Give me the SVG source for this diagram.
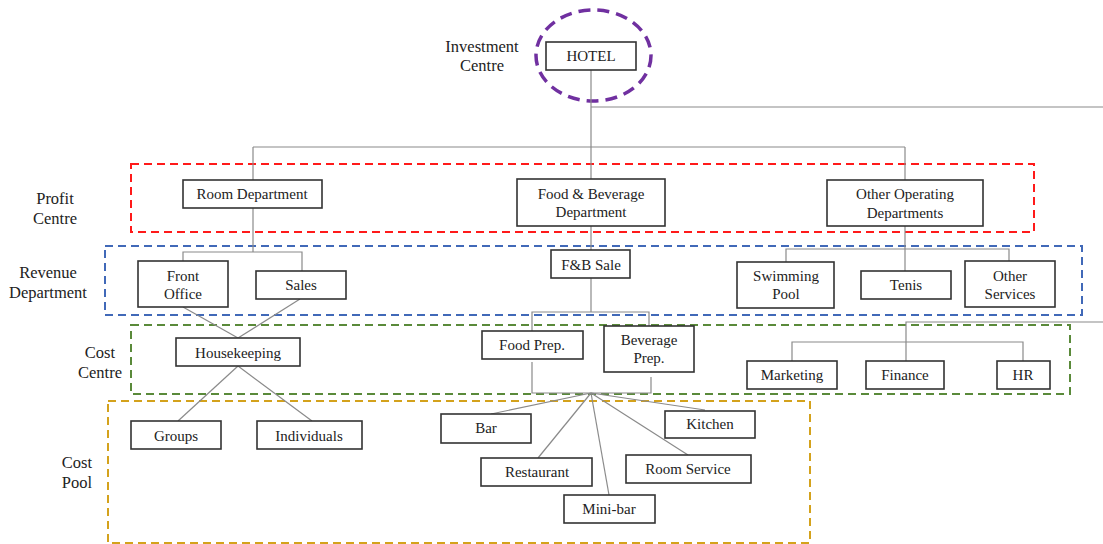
<svg xmlns="http://www.w3.org/2000/svg" width="1103" height="544" viewBox="0 0 1103 544">
  <style>
    .box { fill: #ffffff; stroke: #333333; stroke-width: 1.6; }
    .t { font-family: "Liberation Serif", "Times New Roman", serif; font-size: 15px; fill: #222222; text-anchor: middle; }
    .lbl { font-family: "Liberation Serif", "Times New Roman", serif; font-size: 16.5px; fill: #222222; text-anchor: middle; }
    .conn { fill: none; stroke: #8a8a8a; stroke-width: 1.2; }
    .zone { fill: none; stroke-width: 2; stroke-dasharray: 8 5; }
  </style>
  <rect width="1103" height="544" fill="#ffffff"/>

  <!-- level bands -->
  <g id="bands">
    <rect class="zone" x="131" y="164" width="903" height="68" stroke="#ff1a1a"/>
    <rect class="zone" x="105" y="246" width="977" height="69" stroke="#4169b8"/>
    <rect class="zone" x="131" y="325" width="939" height="69" stroke="#5a8a3a"/>
    <rect class="zone" x="108" y="401" width="702" height="142" stroke="#d4a21c"/>
    <ellipse cx="593.5" cy="55.5" rx="57.5" ry="45.5" fill="none" stroke="#7030a0" stroke-width="3.5" stroke-dasharray="12 7"/>
  </g>

  <!-- level labels -->
  <g id="labels">
    <text class="lbl" x="482" y="52">Investment</text>
    <text class="lbl" x="482" y="71">Centre</text>
    <text class="lbl" x="55" y="204">Profit</text>
    <text class="lbl" x="55" y="224">Centre</text>
    <text class="lbl" x="48" y="278">Revenue</text>
    <text class="lbl" x="48" y="298">Department</text>
    <text class="lbl" x="100" y="358">Cost</text>
    <text class="lbl" x="100" y="378">Centre</text>
    <text class="lbl" x="77" y="468">Cost</text>
    <text class="lbl" x="77" y="488">Pool</text>
  </g>

  <!-- connectors -->
  <g id="connectors" class="conn">
    <path d="M591 70 V179"/>
    <path d="M591 107 H1103"/>
    <path d="M253 147 H905"/>
    <path d="M253 147 V180"/>
    <path d="M905 147 V180"/>
    <!-- rooms -->
    <path d="M253 208 V252"/>
    <path d="M183 261 V252 H302 V271"/>
    <path d="M183 307 L238 338"/>
    <path d="M300 299 L238 338"/>
    <path d="M238 366 L178 421"/>
    <path d="M238 366 L312 421"/>
    <!-- food and beverage -->
    <path d="M591 226 V250"/>
    <path d="M591 278 V312"/>
    <path d="M532 331 V312 H649 V326"/>
    <path d="M532 362 V393 H651 V377"/>
    <path d="M591 393 L491 414"/>
    <path d="M591 393 L538 458"/>
    <path d="M591 393 L609 495"/>
    <path d="M591 393 L688 455"/>
    <path d="M591 393 L705 410"/>
    <!-- other operating departments -->
    <path d="M905 226 V271"/>
    <path d="M786 262 V249 H1009 V261"/>
    <path d="M1103 322 H906 V361"/>
    <path d="M792 361 V342 H1023 V361"/>
  </g>

  <g id="hotel">
    <rect class="box" x="546" y="42" width="90" height="28"/>
    <text class="t" x="591" y="61">HOTEL</text>
  </g>

  <g id="room-department">
    <rect class="box" x="183" y="180" width="139" height="28"/>
    <text class="t" x="252" y="199">Room Department</text>
  </g>
  <g id="fb-department">
    <rect class="box" x="517" y="179" width="148" height="47"/>
    <text class="t" x="591" y="199">Food &amp; Beverage</text>
    <text class="t" x="591" y="217">Department</text>
  </g>
  <g id="other-operating">
    <rect class="box" x="827" y="180" width="156" height="46"/>
    <text class="t" x="905" y="199">Other Operating</text>
    <text class="t" x="905" y="218">Departments</text>
  </g>

  <g id="front-office">
    <rect class="box" x="138" y="261" width="90" height="46"/>
    <text class="t" x="183" y="281">Front</text>
    <text class="t" x="183" y="299">Office</text>
  </g>
  <g id="sales">
    <rect class="box" x="256" y="271" width="90" height="28"/>
    <text class="t" x="301" y="290">Sales</text>
  </g>
  <g id="fb-sale">
    <rect class="box" x="551" y="250" width="79" height="28"/>
    <text class="t" x="591" y="270">F&amp;B Sale</text>
  </g>
  <g id="swimming-pool">
    <rect class="box" x="737" y="262" width="97" height="46"/>
    <text class="t" x="786" y="281">Swimming</text>
    <text class="t" x="786" y="299">Pool</text>
  </g>
  <g id="tenis">
    <rect class="box" x="861" y="271" width="90" height="28"/>
    <text class="t" x="906" y="290">Tenis</text>
  </g>
  <g id="other-services">
    <rect class="box" x="965" y="261" width="90" height="46"/>
    <text class="t" x="1010" y="281">Other</text>
    <text class="t" x="1010" y="299">Services</text>
  </g>

  <g id="housekeeping">
    <rect class="box" x="176" y="338" width="124" height="28"/>
    <text class="t" x="238" y="358">Housekeeping</text>
  </g>
  <g id="food-prep">
    <rect class="box" x="482" y="331" width="101" height="28"/>
    <text class="t" x="532" y="350">Food Prep.</text>
  </g>
  <g id="beverage-prep">
    <rect class="box" x="604" y="326" width="90" height="46"/>
    <text class="t" x="649" y="345">Beverage</text>
    <text class="t" x="649" y="363">Prep.</text>
  </g>
  <g id="marketing">
    <rect class="box" x="747" y="361" width="90" height="28"/>
    <text class="t" x="792" y="380">Marketing</text>
  </g>
  <g id="finance">
    <rect class="box" x="866" y="361" width="78" height="28"/>
    <text class="t" x="905" y="380">Finance</text>
  </g>
  <g id="hr">
    <rect class="box" x="997" y="361" width="53" height="28"/>
    <text class="t" x="1023" y="380">HR</text>
  </g>

  <g id="groups">
    <rect class="box" x="131" y="421" width="90" height="28"/>
    <text class="t" x="176" y="441">Groups</text>
  </g>
  <g id="individuals">
    <rect class="box" x="257" y="421" width="105" height="28"/>
    <text class="t" x="309" y="441">Individuals</text>
  </g>
  <g id="bar">
    <rect class="box" x="441" y="414" width="90" height="29"/>
    <text class="t" x="486" y="433">Bar</text>
  </g>
  <g id="kitchen">
    <rect class="box" x="665" y="411" width="90" height="27"/>
    <text class="t" x="710" y="429">Kitchen</text>
  </g>
  <g id="restaurant">
    <rect class="box" x="481" y="458" width="111" height="28"/>
    <text class="t" x="537" y="477">Restaurant</text>
  </g>
  <g id="room-service">
    <rect class="box" x="626" y="455" width="125" height="28"/>
    <text class="t" x="688" y="474">Room Service</text>
  </g>
  <g id="mini-bar">
    <rect class="box" x="564" y="495" width="91" height="28"/>
    <text class="t" x="609" y="514">Mini-bar</text>
  </g>
</svg>
